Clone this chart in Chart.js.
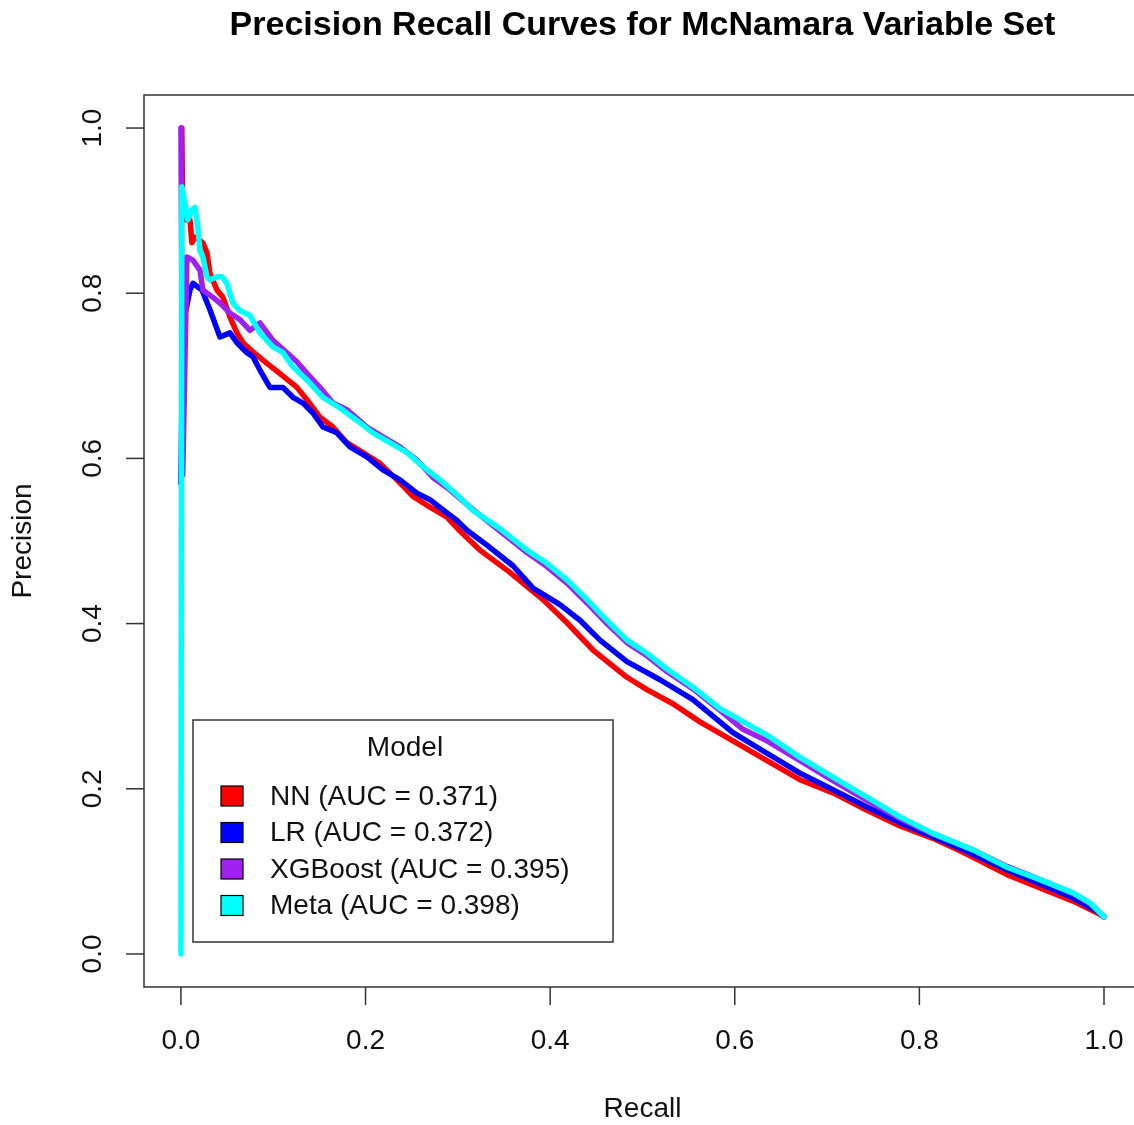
<!DOCTYPE html>
<html><head><meta charset="utf-8">
<script src="https://cdn.jsdelivr.net/npm/chart.js@4.4.0/dist/chart.umd.min.js"></script>
<style>html,body{margin:0;padding:0;background:#fff;overflow:hidden;width:1134px;height:1125px}
#wrap{width:1134px;height:1125px;position:relative}</style>
</head><body><div id="wrap"><canvas id="c" width="1134" height="1125"></canvas></div>
<script>
const chartTitle = "Precision Recall Curves for McNamara Variable Set";
const xAxisTitle = "Recall";
const yAxisTitle = "Precision";
const legendTitle = "Model";
const modelNames = ["NN", "LR", "XGBoost", "Meta"];
const aucValues = ["0.371", "0.372", "0.395", "0.398"];
const seriesColors = ["#FF0000", "#0000FF", "#A020F0", "#00FFFF"];
const xTicks = [0, 0.2, 0.4, 0.6, 0.8, 1.0];
const yTicks = [0, 0.2, 0.4, 0.6, 0.8, 1.0];
const xTickLabels = ["0.0", "0.2", "0.4", "0.6", "0.8", "1.0"];
const yTickLabels = ["0.0", "0.2", "0.4", "0.6", "0.8", "1.0"];

const nnRecall = [0.001, 0.002, 0.0098, 0.0119, 0.0152, 0.0206, 0.0238, 0.0282, 0.0314, 0.039, 0.0455, 0.0531, 0.0607, 0.0672, 0.078, 0.0932, 0.107, 0.1257, 0.1365, 0.1506, 0.1647, 0.1798, 0.1972, 0.2156, 0.234, 0.2514, 0.2698, 0.2882, 0.3023, 0.3239, 0.3564, 0.3922, 0.4182, 0.4464, 0.4832, 0.5049, 0.533, 0.5623, 0.598, 0.6349, 0.6706, 0.7064, 0.7432, 0.779, 0.8147, 0.844, 0.8581, 0.8949, 0.9307, 0.9664, 0.9924, 1.0];
const nnPrecision = [1.0, 0.889, 0.889, 0.861, 0.868, 0.864, 0.861, 0.849, 0.824, 0.804, 0.795, 0.771, 0.752, 0.740, 0.729, 0.715, 0.703, 0.686, 0.671, 0.650, 0.638, 0.619, 0.607, 0.594, 0.574, 0.554, 0.541, 0.529, 0.512, 0.489, 0.462, 0.429, 0.401, 0.368, 0.335, 0.320, 0.303, 0.281, 0.258, 0.234, 0.211, 0.195, 0.174, 0.155, 0.140, 0.125, 0.117, 0.096, 0.080, 0.064, 0.050, 0.045];

const lrRecall = [0, 0.002, 0.0098, 0.013, 0.0228, 0.0314, 0.0423, 0.0531, 0.0607, 0.0715, 0.078, 0.0856, 0.0964, 0.1105, 0.1213, 0.1322, 0.143, 0.1538, 0.169, 0.1831, 0.2015, 0.2189, 0.2373, 0.2557, 0.2698, 0.2882, 0.299, 0.3099, 0.3315, 0.3597, 0.3814, 0.4106, 0.4323, 0.454, 0.4832, 0.519, 0.5547, 0.5764, 0.598, 0.6349, 0.6706, 0.7064, 0.7432, 0.779, 0.8147, 0.844, 0.8949, 0.9307, 0.9664, 0.9924, 1.0];
const lrPrecision = [0.57, 0.76, 0.804, 0.812, 0.804, 0.780, 0.747, 0.752, 0.740, 0.728, 0.723, 0.707, 0.686, 0.686, 0.674, 0.667, 0.655, 0.638, 0.631, 0.614, 0.602, 0.586, 0.574, 0.558, 0.550, 0.534, 0.525, 0.513, 0.495, 0.470, 0.443, 0.423, 0.404, 0.380, 0.354, 0.332, 0.308, 0.288, 0.268, 0.243, 0.219, 0.199, 0.178, 0.159, 0.142, 0.128, 0.102, 0.085, 0.068, 0.052, 0.045];

const xgbRecall = [0, 0.002, 0.0065, 0.013, 0.0206, 0.0238, 0.0347, 0.0423, 0.0531, 0.0639, 0.0748, 0.0856, 0.0997, 0.1148, 0.1257, 0.1365, 0.1506, 0.1647, 0.1798, 0.2015, 0.2189, 0.2373, 0.2557, 0.273, 0.2914, 0.3164, 0.3456, 0.3749, 0.3965, 0.4182, 0.4399, 0.4615, 0.4832, 0.5049, 0.5265, 0.5547, 0.584, 0.6089, 0.6349, 0.6706, 0.7064, 0.7432, 0.779, 0.8147, 0.8581, 0.8949, 0.9307, 0.9664, 0.9848, 1.0];
const xgbPrecision = [1.0, 0.58, 0.844, 0.840, 0.828, 0.804, 0.795, 0.788, 0.776, 0.768, 0.755, 0.764, 0.743, 0.728, 0.717, 0.703, 0.686, 0.667, 0.659, 0.638, 0.626, 0.614, 0.598, 0.577, 0.562, 0.538, 0.512, 0.486, 0.469, 0.449, 0.425, 0.400, 0.377, 0.361, 0.342, 0.321, 0.295, 0.272, 0.258, 0.234, 0.210, 0.186, 0.164, 0.145, 0.126, 0.106, 0.090, 0.073, 0.061, 0.045];

const metaRecall = [0, 0.001, 0.0076, 0.0119, 0.0152, 0.0184, 0.0206, 0.0238, 0.0282, 0.0314, 0.039, 0.0444, 0.0498, 0.0563, 0.0639, 0.0748, 0.0856, 0.0997, 0.1105, 0.1213, 0.1365, 0.1538, 0.1723, 0.1907, 0.208, 0.2264, 0.2449, 0.2622, 0.2806, 0.299, 0.3164, 0.3456, 0.3749, 0.3965, 0.4182, 0.4399, 0.4615, 0.4832, 0.5049, 0.5265, 0.5547, 0.584, 0.6349, 0.6706, 0.7064, 0.7432, 0.779, 0.8147, 0.8581, 0.8949, 0.9307, 0.9664, 0.9848, 1.0];
const metaPrecision = [0, 0.929, 0.889, 0.901, 0.904, 0.880, 0.852, 0.844, 0.820, 0.816, 0.820, 0.820, 0.812, 0.788, 0.779, 0.773, 0.752, 0.735, 0.728, 0.711, 0.695, 0.674, 0.661, 0.646, 0.631, 0.619, 0.607, 0.590, 0.574, 0.556, 0.537, 0.515, 0.489, 0.473, 0.453, 0.429, 0.404, 0.380, 0.364, 0.345, 0.323, 0.297, 0.265, 0.238, 0.214, 0.190, 0.166, 0.146, 0.126, 0.105, 0.090, 0.074, 0.062, 0.045];

const recalls = [nnRecall, lrRecall, xgbRecall, metaRecall];
const precisions = [nnPrecision, lrPrecision, xgbPrecision, metaPrecision];

const FONT = '"Liberation Sans", Arial, Helvetica, sans-serif';
const AX = '#333333';

const datasets = modelNames.map((name, i) => ({
  label: name + ' (AUC = ' + aucValues[i] + ')',
  data: recalls[i].map((r, j) => ({ x: r, y: precisions[i][j] })),
  borderColor: seriesColors[i],
  backgroundColor: seriesColors[i],
  borderWidth: 5.5,
  pointRadius: 0,
  tension: 0,
  fill: false,
  borderJoinStyle: 'round',
  borderCapStyle: 'round',
  order: modelNames.length - i
}));

const rAxesPlugin = {
  id: 'rAxes',
  afterDraw(chart) {
    const ctx = chart.ctx;
    const a = chart.chartArea;
    const xs = chart.scales.x, ys = chart.scales.y;
    ctx.save();
    // plot box (right edge lies beyond the picture)
    ctx.strokeStyle = AX; ctx.lineWidth = 1.5;
    ctx.beginPath();
    ctx.moveTo(a.right + 10, a.top); ctx.lineTo(a.left, a.top);
    ctx.lineTo(a.left, a.bottom); ctx.lineTo(a.right + 10, a.bottom);
    ctx.stroke();
    // x axis ticks
    ctx.fillStyle = '#111';
    ctx.font = '28px ' + FONT;
    ctx.textAlign = 'center'; ctx.textBaseline = 'middle';
    xTicks.forEach((v, i) => {
      const px = xs.getPixelForValue(v);
      ctx.beginPath(); ctx.moveTo(px, a.bottom); ctx.lineTo(px, a.bottom + 18); ctx.stroke();
      ctx.fillText(xTickLabels[i], px, a.bottom + 54);
    });
    // y axis ticks
    yTicks.forEach((v, i) => {
      const py = ys.getPixelForValue(v);
      ctx.beginPath(); ctx.moveTo(a.left, py); ctx.lineTo(a.left - 18, py); ctx.stroke();
      ctx.save();
      ctx.translate(a.left - 51, py);
      ctx.rotate(-Math.PI / 2);
      ctx.fillText(yTickLabels[i], 0, 0);
      ctx.restore();
    });
    // axis titles
    const cx = 642.5, cy = (a.top + a.bottom) / 2;
    ctx.fillText(xAxisTitle, cx, a.bottom + 122);
    ctx.save();
    ctx.translate(23, cy);
    ctx.rotate(-Math.PI / 2);
    ctx.fillText(yAxisTitle, 0, 0);
    ctx.restore();
    // main title
    ctx.font = 'bold 34px ' + FONT;
    ctx.fillStyle = '#000';
    ctx.fillText(chartTitle, cx, 26);
    // legend
    const lx = 193, ly = 720, lw = 420, lh = 222;
    ctx.fillStyle = '#fff';
    ctx.fillRect(lx, ly, lw, lh);
    ctx.strokeStyle = AX; ctx.lineWidth = 1.5;
    ctx.strokeRect(lx, ly, lw, lh);
    ctx.font = '28px ' + FONT;
    ctx.fillStyle = '#111';
    ctx.textAlign = 'center';
    ctx.fillText(legendTitle, lx + 212, ly + 28);
    ctx.textAlign = 'left';
    datasets.forEach((d, i) => {
      const rowY = ly + 76 + i * 36.5;
      ctx.fillStyle = seriesColors[i];
      ctx.fillRect(221, rowY - 10, 22, 20);
      ctx.strokeStyle = '#000'; ctx.lineWidth = 1.2;
      ctx.strokeRect(221, rowY - 10, 22, 20);
      ctx.fillStyle = '#111';
      ctx.fillText(d.label, 270, rowY + 1);
    });
    ctx.restore();
  }
};

new Chart(document.getElementById('c'), {
  type: 'line',
  data: { datasets },
  options: {
    responsive: false,
    devicePixelRatio: 1,
    animation: false,
    layout: { padding: { left: 144, top: 95, right: 0, bottom: 138 } },
    plugins: { legend: { display: false }, tooltip: { enabled: false }, title: { display: false } },
    scales: {
      x: { type: 'linear', display: false, min: -0.04, max: 1.0325 },
      y: { type: 'linear', display: false, min: -0.04, max: 1.04 }
    }
  },
  plugins: [rAxesPlugin]
});
</script></body></html>
